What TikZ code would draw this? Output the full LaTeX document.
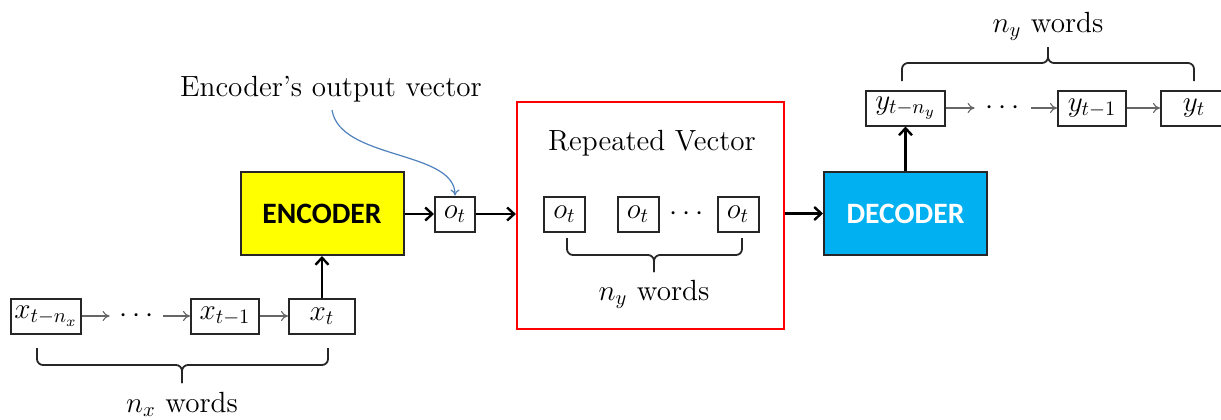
\RequirePackage{fix-cm}
\documentclass[tikz,border=0pt]{standalone}
\usepackage{fontspec}
\newfontfamily\calibri{Carlito}
\usetikzlibrary{arrows.meta}
\definecolor{encyellow}{RGB}{255,255,0}
\definecolor{deccyan}{RGB}{0,176,240}
\definecolor{curveblue}{RGB}{79,129,189}
\definecolor{framered}{RGB}{255,0,0}
\begin{document}
\begin{tikzpicture}[x=0.5pt,y=-0.5pt,
  font=\fontsize{14.6}{17}\selectfont,
  wbox/.style={draw=black!85,line width=1pt,inner sep=0pt,minimum height=17.5pt},
  dotsnode/.style={inner sep=0pt},
  thinarrow/.style={draw=black!60,line width=0.55pt,-{To[length=3.5pt,width=5pt]}},
  bigarrow/.style={draw=black,line width=1.2pt,-{Straight Barb[length=3.5pt,width=6.5pt]}},
  bigbox/.style={draw=black!85,line width=1pt,minimum width=81.5pt,minimum height=41.5pt,inner sep=0pt,
    font=\fontsize{14.8}{17}\selectfont\calibri\bfseries},
  bracestyle/.style={draw=black!85,line width=0.9pt,rounded corners=3pt},
  lbl/.style={anchor=base,inner sep=0pt}
]
\useasboundingbox (0,0) rectangle (1221,419);

% encoder input sequence
\node[wbox,minimum width=35pt] (xa) at (46,316) {$x_{t-n_x}$};
\node[dotsnode,minimum width=26.5pt] (xd) at (136.5,316) {$\cdots$};
\node[wbox,minimum width=34pt] (xb) at (225,316) {$x_{t-1}$};
\node[wbox,minimum width=33pt] (xc) at (322,316) {$x_t$};
\draw[thinarrow] (xa.east) -- (xd.west);
\draw[thinarrow] (xd.east) -- (xb.west);
\draw[thinarrow] (xb.east) -- (xc.west);

% brace under the x sequence
\coordinate (bxl) at (37,348);
\coordinate (bxr) at (328,348);
\coordinate (bxm) at (182,365);
\coordinate (bxt) at (182,383);
\draw[bracestyle] (bxl) |- (bxm) -- (bxt);
\draw[bracestyle] (bxr) |- (bxm) -- (bxt);
\node[lbl] (nx) at (182,412) {$n_x$ words};

% encoder
\node[bigbox,fill=encyellow,text=black] (enc) at (322,213.5) {ENCODER};
\draw[bigarrow] (xc.north) -- (enc.south);

% encoder output
\node[wbox,minimum width=20pt] (ot) at (455,214) {$o_t$};
\draw[bigarrow] (enc.east |- ot) -- (ot.west);

\node[lbl] (eov) at (331,96) {Encoder's output vector};
\coordinate (cs) at (332,110);
\draw[curveblue,line width=0.6pt,-{To[length=3pt,width=4.5pt]}] (cs) .. controls (340,160) and (455,150) .. (ot.north);

% repeated vector
\node[draw=framered,line width=1.1pt,minimum width=133.5pt,minimum height=113.5pt,inner sep=0pt] (rv) at (650.5,215.5) {};
\draw[bigarrow] (ot.east) -- (ot.east -| rv.west);
\node[lbl] (rvt) at (652,150) {Repeated Vector};
\node[wbox,minimum width=20.5pt] (o1) at (564.5,214) {$o_t$};
\node[wbox,minimum width=20.5pt] (o2) at (638,214) {$o_t$};
\node[dotsnode] (od) at (687,214) {$\cdots$};
\node[wbox,minimum width=20.5pt] (o3) at (738,214) {$o_t$};
\coordinate (bol) at (567,238);
\coordinate (bor) at (742,238);
\coordinate (bom) at (654,255);
\coordinate (bot) at (654,272);
\draw[bracestyle] (bol) |- (bom) -- (bot);
\draw[bracestyle] (bor) |- (bom) -- (bot);
\node[lbl] (ny1) at (654,300) {$n_y$ words};

% decoder
\node[bigbox,fill=deccyan,text=white] (dec) at (905.5,213.5) {DECODER};
\draw[bigarrow] (rv.east |- dec) -- (dec.west);

% decoder output sequence
\node[wbox,minimum width=39.5pt] (ya) at (905.5,108) {$y_{t-n_y}$};
\node[dotsnode,minimum width=28pt] (yd) at (1003,108) {$\cdots$};
\node[wbox,minimum width=34pt] (yb) at (1092,108) {$y_{t-1}$};
\node[wbox,minimum width=33pt] (yc) at (1194,108) {$y_t$};
\draw[bigarrow] (dec.north) -- (ya.south);
\draw[thinarrow] (ya.east) -- (yd.west);
\draw[thinarrow] (yd.east) -- (yb.west);
\draw[thinarrow] (yb.east) -- (yc.west);

\coordinate (byl) at (902,81);
\coordinate (byr) at (1194,81);
\coordinate (bym) at (1048,63);
\coordinate (byt) at (1048,47);
\draw[bracestyle] (byl) |- (bym) -- (byt);
\draw[bracestyle] (byr) |- (bym) -- (byt);
\node[lbl] (ny2) at (1048,32) {$n_y$ words};
\end{tikzpicture}
\end{document}
